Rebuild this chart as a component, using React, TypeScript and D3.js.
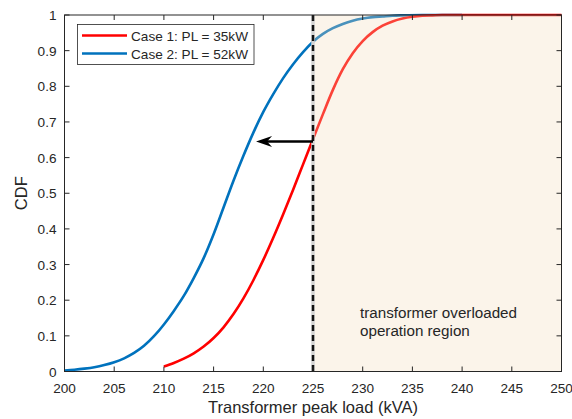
import React from "react";
import * as d3 from "d3";

const redX = [210, 211, 212, 213, 214, 215, 216, 217, 218, 219, 220, 221, 222, 223, 224, 225, 226, 227, 228, 229, 230, 231, 232, 233, 234, 235, 236, 237, 238, 240, 250];
const redY = [0.014, 0.024, 0.036, 0.051, 0.07, 0.094, 0.124, 0.161, 0.205, 0.256, 0.313, 0.375, 0.441, 0.51, 0.581, 0.652, 0.722, 0.79, 0.848, 0.893, 0.927, 0.952, 0.97, 0.982, 0.99, 0.995, 0.998, 0.999, 1, 1, 1];
const blueX = [200, 201, 202, 203, 204, 205, 206, 207, 208, 209, 210, 211, 212, 213, 214, 215, 216, 217, 218, 219, 220, 221, 222, 223, 224, 225, 226, 227, 228, 229, 230, 231, 232, 233, 234, 236, 240];
const blueY = [0.003, 0.005, 0.008, 0.012, 0.018, 0.026, 0.037, 0.052, 0.072, 0.099, 0.132, 0.17, 0.212, 0.262, 0.318, 0.385, 0.46, 0.535, 0.605, 0.67, 0.728, 0.778, 0.823, 0.862, 0.896, 0.925, 0.947, 0.963, 0.975, 0.984, 0.99, 0.994, 0.996, 0.998, 0.999, 1, 1];
const xTicks = [200, 205, 210, 215, 220, 225, 230, 235, 240, 245, 250];
const yTicks = [0, 0.1, 0.2, 0.3, 0.4, 0.5, 0.6, 0.7, 0.8, 0.9, 1];
const seriesNames = ["Case 1: PL = 35kW", "Case 2: PL = 52kW"];
const seriesColors = ["#FF0000", "#0072BD"];
const threshold = 225;
const arrowFrom = [225, 0.645];
const arrowTo = [219.27, 0.645];
const regionText = ["transformer overloaded", "operation region"];

export default function App() {
  const W = 572, H = 419;
  const L = 64.5, R = 561.5, T = 15, B = 371.5;
  const x = d3.scaleLinear().domain([200, 250]).range([L, R]);
  const y = d3.scaleLinear().domain([0, 1]).range([B, T]);
  const line = d3.line<[number, number]>().x(d => x(d[0])).y(d => y(d[1])).curve(d3.curveMonotoneX);
  const red = redX.map((v, i) => [v, redY[i]] as [number, number]);
  const blue = blueX.map((v, i) => [v, blueY[i]] as [number, number]);
  const font = "'Liberation Sans', Arial, sans-serif";
  const axisColor = "#262626";
  const tipX = x(arrowTo[0]), tipY = y(arrowTo[1]);
  return (
    <svg width={W} height={H} style={{ position: "absolute", left: 0, top: 0 }} fontFamily={font}>
      <rect x={0} y={0} width={W} height={H} fill="#fff" />
      <path d={line(blue) || ""} fill="none" stroke={seriesColors[1]} strokeWidth={2.6} />
      <path d={line(red) || ""} fill="none" stroke={seriesColors[0]} strokeWidth={2.6} />
      <rect x={x(threshold)} y={T} width={R - x(threshold)} height={B - T} fill="#F2D9B8" fillOpacity={0.3} />
      <line x1={x(threshold)} x2={x(threshold)} y1={T} y2={B} stroke="#d4d4d4" strokeWidth={3.5} />
      <line x1={x(threshold)} x2={x(threshold)} y1={T} y2={B} stroke="#111" strokeWidth={2.5} strokeDasharray="6,4" />
      <line x1={x(arrowFrom[0])} x2={tipX + 8} y1={y(arrowFrom[1])} y2={tipY} stroke="#000" strokeWidth={2.5} />
      <path d={`M${tipX},${tipY} L${tipX + 16},${tipY - 5.5} L${tipX + 11},${tipY} L${tipX + 16},${tipY + 5.5} Z`} fill="#000" />
      <rect x={L} y={T} width={R - L} height={B - T} fill="none" stroke={axisColor} strokeWidth={1} />
      {xTicks.map(t => (
        <g key={"x" + t}>
          <line x1={x(t)} x2={x(t)} y1={B} y2={B - 5} stroke={axisColor} />
          <line x1={x(t)} x2={x(t)} y1={T} y2={T + 5} stroke={axisColor} />
          <text x={x(t)} y={392.5} textAnchor="middle" fontSize={13.6} fill={axisColor}>{t}</text>
        </g>
      ))}
      {yTicks.map(t => (
        <g key={"y" + t}>
          <line x1={L} x2={L + 5} y1={y(t)} y2={y(t)} stroke={axisColor} />
          <line x1={R} x2={R - 5} y1={y(t)} y2={y(t)} stroke={axisColor} />
          <text x={56.5} y={y(t) + 5} textAnchor="end" fontSize={13.6} fill={axisColor}>{t}</text>
        </g>
      ))}
      <text x={(L + R) / 2} y={413} textAnchor="middle" fontSize={16.5} fill={axisColor}>Transformer peak load (kVA)</text>
      <text transform={`translate(27,${(T + B) / 2}) rotate(-90)`} textAnchor="middle" fontSize={16.5} fill={axisColor}>CDF</text>
      {regionText.map((s, i) => (
        <text key={s} x={360} y={317.5 + i * 18} fontSize={15.2} fill={axisColor}>{s}</text>
      ))}
      <rect x={77.5} y={24.5} width={176.5} height={40} fill="#fff" stroke="#262626" strokeWidth={0.8} />
      {seriesNames.map((s, i) => (
        <g key={s}>
          <line x1={82} x2={127} y1={35.5 + i * 18} y2={35.5 + i * 18} stroke={seriesColors[i]} strokeWidth={2.6} />
          <text x={131} y={40.5 + i * 18} fontSize={13.6} fill={axisColor}>{s}</text>
        </g>
      ))}
    </svg>
  );
}
